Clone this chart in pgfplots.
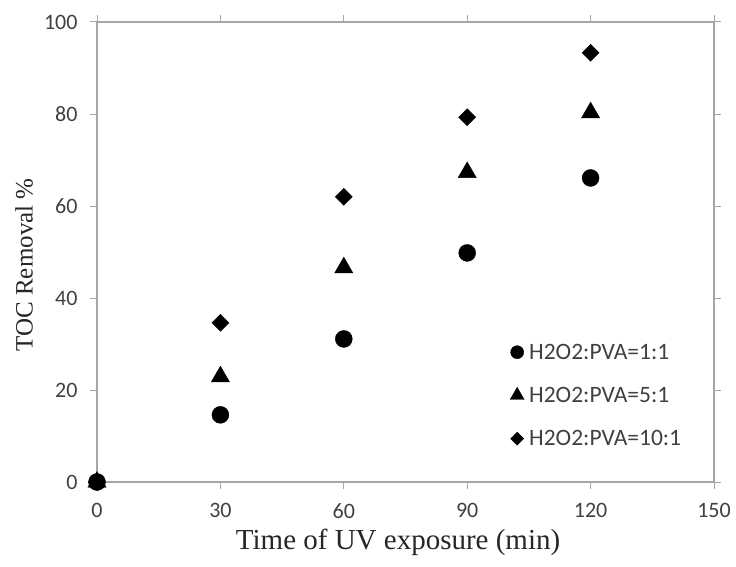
\documentclass[border=0pt]{standalone}
\usepackage{pgfplots}
\pgfplotsset{compat=1.18}
\usepackage{fontspec}
\setmainfont{Liberation Serif}
\newfontfamily\calib{Carlito}
\definecolor{axgray}{HTML}{A6A6A6}
\definecolor{txtgray}{HTML}{404040}
\begin{document}
\begin{tikzpicture}
\useasboundingbox (0,0) rectangle (736pt,566pt);
\begin{axis}[
  at={(97pt,84pt)}, anchor=south west,
  scale only axis, width=617pt, height=460pt,
  xmin=0, xmax=150, ymin=0, ymax=100,
  xtick={0,30,60,90,120,150}, ytick={0,20,40,60,80,100},
  tick align=outside, major tick length=7pt,
  tick style={axgray, line width=1pt},
  axis line style={axgray, line width=1.6pt},
  /pgf/number format/assume math mode=true,
  tick label style={font=\calib\fontsize{22}{26}\selectfont, text=txtgray},
  xticklabel style={yshift=-11pt},
  yticklabel style={xshift=-9pt},
  xlabel={Time of UV exposure (min)},
  ylabel={TOC Removal \%},
  xlabel style={font=\fontsize{29}{33}\selectfont, text=black!85, at={(axis description cs:0.488,-0.132)}, anchor=center},
  ylabel style={font=\fontsize{25}{29}\selectfont, text=black!85, at={(axis description cs:-0.118,0.472)}, anchor=center, rotate=0},
  clip=false,
  legend style={draw=none, fill=none, at={(axis cs:100.4,30.3)}, anchor=north west,
    font=\calib\fontsize{23.5}{28}\selectfont, text=txtgray, row sep=24.5pt, inner sep=0pt,
    nodes={inner sep=1pt, inner xsep=5pt}},
  legend cell align=left,
  legend image code/.code={\draw[#1, /tikz/every mark/.append style={scale=0.77}] plot coordinates {(6pt,0pt)};},
]
\addplot[only marks, mark=*, mark size=8.5pt, black] coordinates {(0,0) (30,14.6) (60,31.1) (90,49.8) (120,66.1)};
\addlegendentry{H2O2:PVA=1:1}
\addplot[only marks, mark=triangle*, mark size=10.5pt, black] coordinates {(0,0) (30,22.9) (60,46.6) (90,67.3) (120,80.3)};
\addlegendentry{H2O2:PVA=5:1}
\addplot[only marks, mark=square*, mark size=6pt, mark options={rotate=45}, black] coordinates {(0,0) (30,34.6) (60,62) (90,79.3) (120,93.3)};
\addlegendentry{H2O2:PVA=10:1}
\end{axis}
\end{tikzpicture}
\end{document}
